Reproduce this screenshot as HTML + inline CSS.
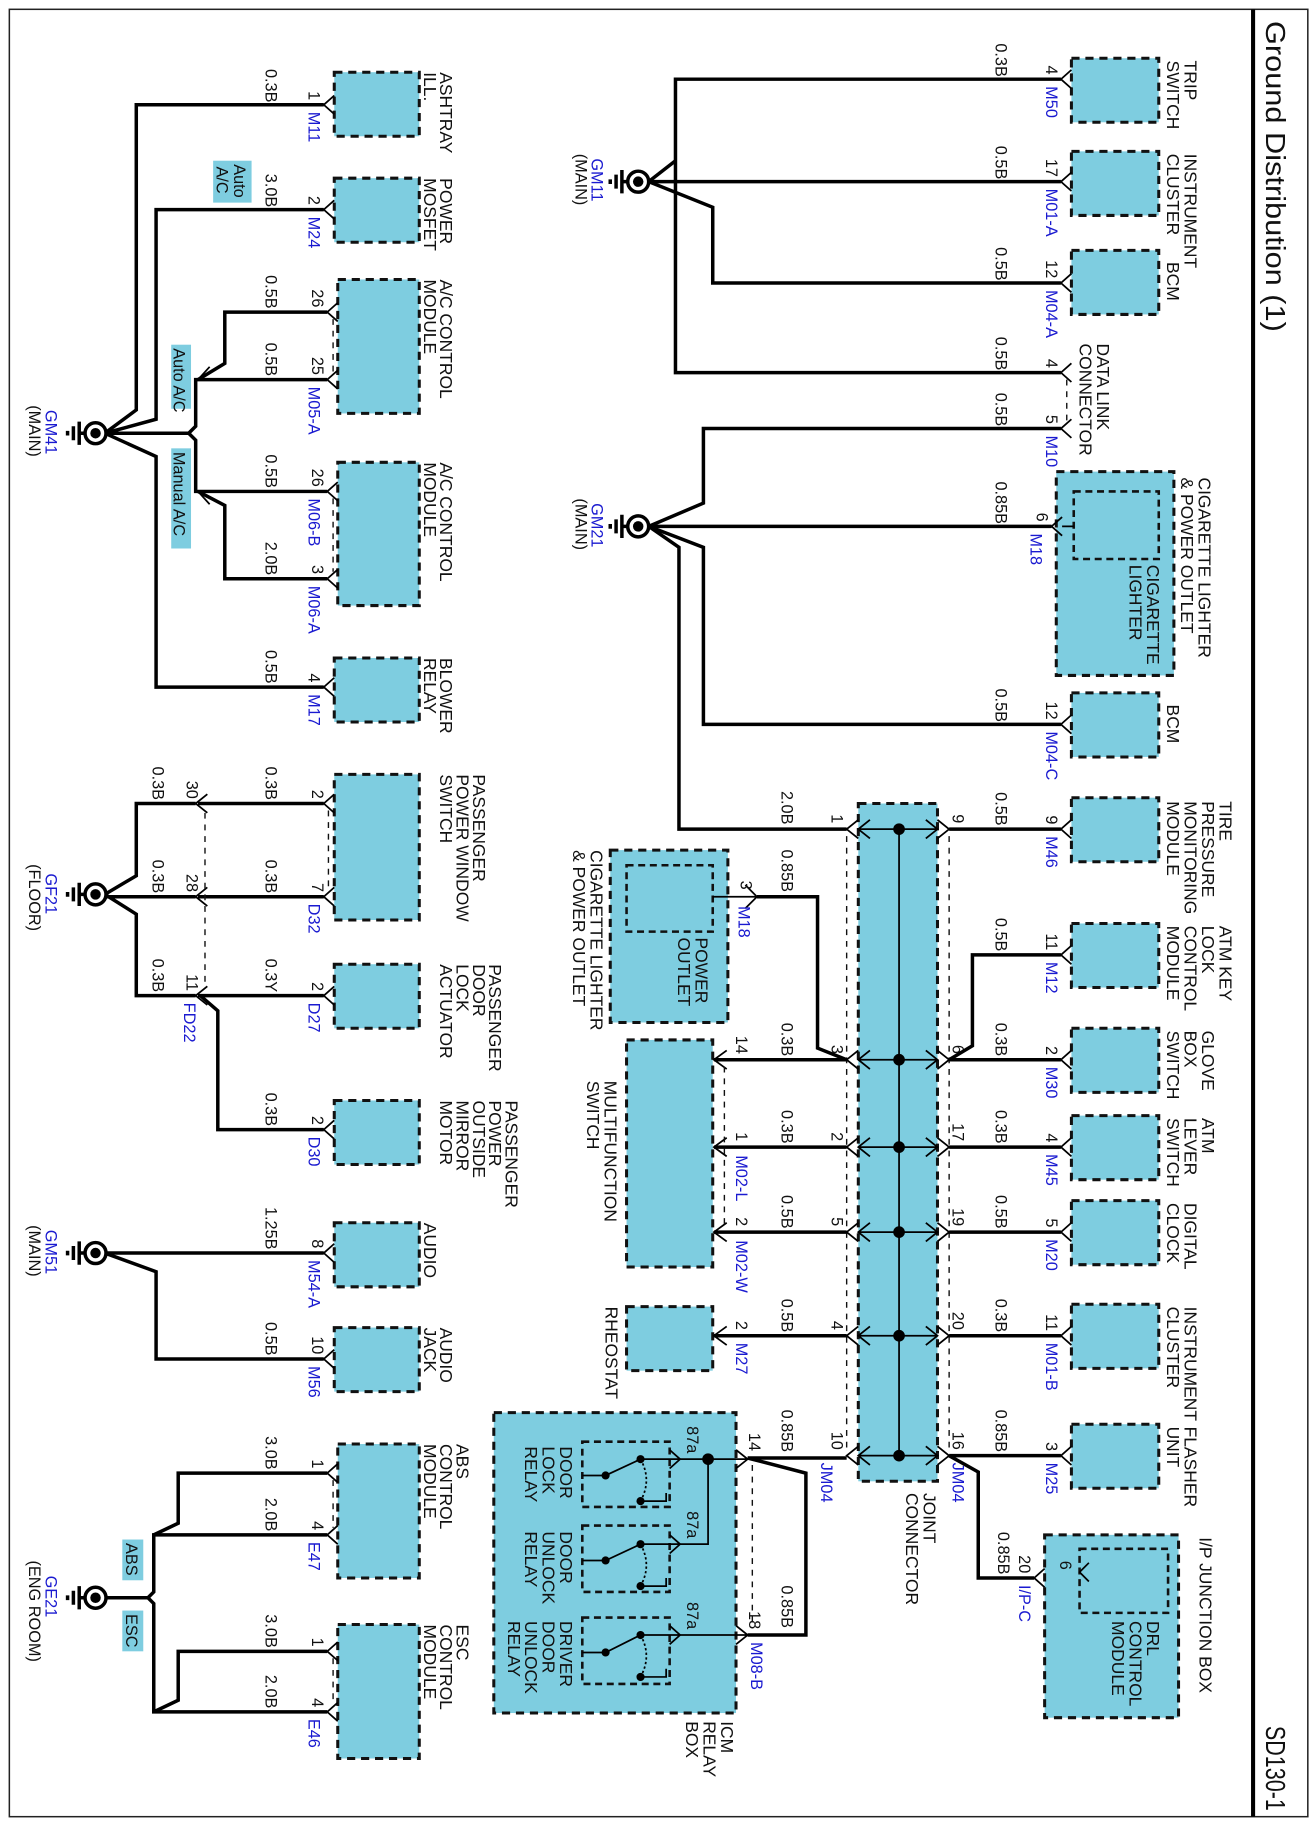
<!DOCTYPE html>
<html><head><meta charset="utf-8"><style>
html,body{margin:0;padding:0;background:#fff}
svg{display:block}
text{font-family:"Liberation Sans",Arial,sans-serif;font-size:14px;fill:#111}
.c{font-size:15px}
.b{fill:#1a1ad0}
.e{text-anchor:end}
.w{fill:none;stroke:#000;stroke-width:3}
.t{fill:none;stroke:#000;stroke-width:1.5}
.bx{fill:#7ecde0;stroke:#111;stroke-width:2.6;stroke-dasharray:7,5}
.ib{fill:none;stroke:#111;stroke-width:2.2;stroke-dasharray:6,4}
.d{fill:none;stroke:#111;stroke-width:1.2;stroke-dasharray:5,5}
.lb{fill:#7ecde0}
</style></head><body>
<svg width="1316" height="1826" viewBox="0 0 1130 1568" xmlns="http://www.w3.org/2000/svg">
<rect x="8" y="8" width="1115" height="1552" fill="#fff" stroke="#222" stroke-width="1.3"/>
<line x1="1076" y1="8" x2="1076" y2="1560" stroke="#000" stroke-width="3.5"/>
<text style="font-size:24px" textLength="267" lengthAdjust="spacingAndGlyphs" transform="translate(1087 18) rotate(90)">Ground Distribution (1)</text>
<text style="font-size:24px" textLength="73" lengthAdjust="spacingAndGlyphs" transform="translate(1087 1482) rotate(90)">SD130-1</text>

<!-- ================= TOP RIGHT ================= -->
<rect class="bx" x="920" y="50" width="75" height="55"/>
<rect class="bx" x="920" y="130" width="75" height="55"/>
<rect class="bx" x="920" y="215" width="75" height="55"/>
<rect class="bx" x="907" y="405" width="101" height="175"/>
<rect class="ib" x="922" y="422" width="73" height="58"/>
<rect class="bx" x="920" y="595" width="75" height="55"/>

<path class="w" d="M911,68 H580 V320 H911"/>
<path class="w" d="M911,156 H557"/>
<path class="w" d="M557,156 L580,138"/>
<path class="w" d="M557,156 L612,178 V243 H911"/>
<path class="w" d="M911,368 H604 V432 L557,452"/>
<path class="w" d="M903,452 H557"/>
<path class="w" d="M911,622 H604 V470 L557,452"/>
<path class="w" d="M557,452 L583,470 V712 H727"/>
<line class="d" x1="916" y1="326" x2="916" y2="362"/>

<g class="t">
<path d="M920,60 L911,68 L920,76"/><path d="M920,148 L911,156 L920,164"/><path d="M920,235 L911,243 L920,251"/>
<path d="M920,312 L911,320 L920,328"/><path d="M920,360 L911,368 L920,376"/>
<path d="M912,444 L903,452 L912,460"/><path d="M920,614 L911,622 L920,630"/>
<path d="M922,452 H912"/>
</g>

<text class="c" transform="translate(1017 52) rotate(90)">TRIP</text>
<text class="c" transform="translate(1002 52) rotate(90)">SWITCH</text>
<text class="c" transform="translate(1017 132) rotate(90)">INSTRUMENT</text>
<text class="c" transform="translate(1002 132) rotate(90)">CLUSTER</text>
<text class="c" transform="translate(1002 225) rotate(90)">BCM</text>
<text class="c" transform="translate(942 295) rotate(90)">DATA LINK</text>
<text class="c" transform="translate(927 295) rotate(90)">CONNECTOR</text>
<text class="c" transform="translate(1029 410) rotate(90)">CIGARETTE LIGHTER</text>
<text class="c" transform="translate(1014 410) rotate(90)">&amp; POWER OUTLET</text>
<text class="c" transform="translate(985 485) rotate(90)">CIGARETTE</text>
<text class="c" transform="translate(970 485) rotate(90)">LIGHTER</text>
<text class="c" transform="translate(1002 605) rotate(90)">BCM</text>

<text class="e" transform="translate(898 64) rotate(90)">4</text>
<text class="b" transform="translate(898 74) rotate(90)">M50</text>
<text class="e" transform="translate(855 66) rotate(90)">0.3B</text>
<text class="e" transform="translate(898 152) rotate(90)">17</text>
<text class="b" transform="translate(898 162) rotate(90)">M01-A</text>
<text class="e" transform="translate(855 154) rotate(90)">0.5B</text>
<text class="e" transform="translate(898 239) rotate(90)">12</text>
<text class="b" transform="translate(898 249) rotate(90)">M04-A</text>
<text class="e" transform="translate(855 241) rotate(90)">0.5B</text>
<text class="e" transform="translate(898 316) rotate(90)">4</text>
<text class="e" transform="translate(855 318) rotate(90)">0.5B</text>
<text class="e" transform="translate(898 364) rotate(90)">5</text>
<text class="b" transform="translate(898 374) rotate(90)">M10</text>
<text class="e" transform="translate(855 366) rotate(90)">0.5B</text>
<text class="e" transform="translate(890 448) rotate(90)">6</text>
<text class="b" transform="translate(885 458) rotate(90)">M18</text>
<text class="e" transform="translate(855 450) rotate(90)">0.85B</text>
<text class="e" transform="translate(898 618) rotate(90)">12</text>
<text class="b" transform="translate(898 628) rotate(90)">M04-C</text>
<text class="e" transform="translate(855 620) rotate(90)">0.5B</text>

<!-- GM11 / GM21 grounds -->
<g>
<circle cx="548" cy="156" r="9" fill="#fff" stroke="#000" stroke-width="3"/><circle cx="548" cy="156" r="4.5" fill="#000"/>
<path class="w" d="M539,156 H534 M534,146 V166 M529,150 V162 M524,154 V158"/>
<text class="b" transform="translate(508 136) rotate(90)">GM11</text>
<text transform="translate(494 132) rotate(90)">(MAIN)</text>
<circle cx="548" cy="452" r="9" fill="#fff" stroke="#000" stroke-width="3"/><circle cx="548" cy="452" r="4.5" fill="#000"/>
<path class="w" d="M539,452 H534 M534,442 V462 M529,446 V458 M524,450 V454"/>
<text class="b" transform="translate(508 432) rotate(90)">GM21</text>
<text transform="translate(494 428) rotate(90)">(MAIN)</text>
</g>

<!-- ================= JOINT CONNECTOR ================= -->
<rect class="bx" x="737" y="690" width="68" height="582"/>
<line x1="772" y1="712" x2="772" y2="1250" stroke="#000" stroke-width="1.5"/>
<line class="d" x1="727" y1="718" x2="727" y2="1244"/>
<line class="d" x1="815" y1="718" x2="815" y2="1244"/>
<g class="t">
<path d="M737,712 H805 M747,704 L737,712 L747,720 M795,704 L805,712 L795,720 M737,704 L727,712 L737,720 M805,704 L815,712 L805,720"/>
<path d="M737,910 H805 M747,902 L737,910 L747,918 M795,902 L805,910 L795,918 M737,902 L727,910 L737,918 M805,902 L815,910 L805,918"/>
<path d="M737,985 H805 M747,977 L737,985 L747,993 M795,977 L805,985 L795,993 M737,977 L727,985 L737,993 M805,977 L815,985 L805,993"/>
<path d="M737,1058 H805 M747,1050 L737,1058 L747,1066 M795,1050 L805,1058 L795,1066 M737,1050 L727,1058 L737,1066 M805,1050 L815,1058 L805,1066"/>
<path d="M737,1147 H805 M747,1139 L737,1147 L747,1155 M795,1139 L805,1147 L795,1155 M737,1139 L727,1147 L737,1155 M805,1139 L815,1147 L805,1155"/>
<path d="M737,1250 H805 M747,1242 L737,1250 L747,1258 M795,1242 L805,1250 L795,1258 M737,1242 L727,1250 L737,1258 M805,1242 L815,1250 L805,1258"/>
</g>
<g fill="#000"><circle cx="772" cy="712" r="5"/><circle cx="772" cy="910" r="5"/><circle cx="772" cy="985" r="5"/><circle cx="772" cy="1058" r="5"/><circle cx="772" cy="1147" r="5"/><circle cx="772" cy="1250" r="5"/></g>
<text class="e" transform="translate(714 707) rotate(90)">1</text>
<text class="e" transform="translate(714 905) rotate(90)">3</text>
<text class="e" transform="translate(714 980) rotate(90)">2</text>
<text class="e" transform="translate(714 1053) rotate(90)">5</text>
<text class="e" transform="translate(714 1142) rotate(90)">4</text>
<text class="e" transform="translate(714 1245) rotate(90)">10</text>
<text class="e" transform="translate(818 707) rotate(90)">9</text>
<text class="e" transform="translate(818 905) rotate(90)">6</text>
<text class="e" transform="translate(818 980) rotate(90)">17</text>
<text class="e" transform="translate(818 1053) rotate(90)">19</text>
<text class="e" transform="translate(818 1142) rotate(90)">20</text>
<text class="e" transform="translate(818 1245) rotate(90)">16</text>
<text class="b" transform="translate(705 1256) rotate(90)">JM04</text>
<text class="b" transform="translate(818 1256) rotate(90)">JM04</text>
<text class="c" transform="translate(793 1282) rotate(90)">JOINT</text>
<text class="c" transform="translate(778 1282) rotate(90)">CONNECTOR</text>
<text class="e" transform="translate(671 708) rotate(90)">2.0B</text>

<!-- right side of joint -->
<rect class="bx" x="920" y="685" width="75" height="55"/>
<rect class="bx" x="920" y="793" width="75" height="55"/>
<rect class="bx" x="920" y="883" width="75" height="55"/>
<rect class="bx" x="920" y="958" width="75" height="55"/>
<rect class="bx" x="920" y="1031" width="75" height="55"/>
<rect class="bx" x="920" y="1120" width="75" height="55"/>
<rect class="bx" x="920" y="1223" width="75" height="55"/>
<rect class="bx" x="897" y="1318" width="115" height="157"/>
<rect class="ib" x="927" y="1330" width="76" height="55"/>
<path class="w" d="M911,712 H815"/>
<path class="w" d="M911,820 H835 V898 L815,910"/>
<path class="w" d="M911,910 H815"/>
<path class="w" d="M911,985 H815"/>
<path class="w" d="M911,1058 H815"/>
<path class="w" d="M911,1147 H815"/>
<path class="w" d="M911,1250 H815"/>
<path class="w" d="M815,1250 L840,1264 V1355 H888"/>
<g class="t">
<path d="M920,704 L911,712 L920,720"/><path d="M920,812 L911,820 L920,828"/><path d="M920,902 L911,910 L920,918"/>
<path d="M920,977 L911,985 L920,993"/><path d="M920,1050 L911,1058 L920,1066"/><path d="M920,1139 L911,1147 L920,1155"/>
<path d="M920,1242 L911,1250 L920,1258"/><path d="M897,1347 L888,1355 L897,1363"/>
<path d="M935,1342 L927,1350 L935,1358"/>
</g>
<text class="e" transform="translate(898 708) rotate(90)">9</text>
<text class="b" transform="translate(898 718) rotate(90)">M46</text>
<text class="e" transform="translate(855 709) rotate(90)">0.5B</text>
<text class="e" transform="translate(898 816) rotate(90)">11</text>
<text class="b" transform="translate(898 826) rotate(90)">M12</text>
<text class="e" transform="translate(855 817) rotate(90)">0.5B</text>
<text class="e" transform="translate(898 906) rotate(90)">2</text>
<text class="b" transform="translate(898 916) rotate(90)">M30</text>
<text class="e" transform="translate(855 907) rotate(90)">0.3B</text>
<text class="e" transform="translate(898 981) rotate(90)">4</text>
<text class="b" transform="translate(898 991) rotate(90)">M45</text>
<text class="e" transform="translate(855 982) rotate(90)">0.3B</text>
<text class="e" transform="translate(898 1054) rotate(90)">5</text>
<text class="b" transform="translate(898 1064) rotate(90)">M20</text>
<text class="e" transform="translate(855 1055) rotate(90)">0.5B</text>
<text class="e" transform="translate(898 1143) rotate(90)">11</text>
<text class="b" transform="translate(898 1153) rotate(90)">M01-B</text>
<text class="e" transform="translate(855 1144) rotate(90)">0.3B</text>
<text class="e" transform="translate(898 1246) rotate(90)">3</text>
<text class="b" transform="translate(898 1256) rotate(90)">M25</text>
<text class="e" transform="translate(855 1247) rotate(90)">0.85B</text>
<text class="e" transform="translate(875 1351) rotate(90)">20</text>
<text class="b" transform="translate(875 1361) rotate(90)">I/P-C</text>
<text class="e" transform="translate(857 1352) rotate(90)">0.85B</text>
<text class="e" transform="translate(910 1348) rotate(90)">6</text>

<text class="c" transform="translate(1047 688) rotate(90)">TIRE</text>
<text class="c" transform="translate(1032 688) rotate(90)">PRESSURE</text>
<text class="c" transform="translate(1017 688) rotate(90)">MONITORING</text>
<text class="c" transform="translate(1002 688) rotate(90)">MODULE</text>
<text class="c" transform="translate(1047 795) rotate(90)">ATM KEY</text>
<text class="c" transform="translate(1032 795) rotate(90)">LOCK</text>
<text class="c" transform="translate(1017 795) rotate(90)">CONTROL</text>
<text class="c" transform="translate(1002 795) rotate(90)">MODULE</text>
<text class="c" transform="translate(1032 885) rotate(90)">GLOVE</text>
<text class="c" transform="translate(1017 885) rotate(90)">BOX</text>
<text class="c" transform="translate(1002 885) rotate(90)">SWITCH</text>
<text class="c" transform="translate(1032 960) rotate(90)">ATM</text>
<text class="c" transform="translate(1017 960) rotate(90)">LEVER</text>
<text class="c" transform="translate(1002 960) rotate(90)">SWITCH</text>
<text class="c" transform="translate(1017 1033) rotate(90)">DIGITAL</text>
<text class="c" transform="translate(1002 1033) rotate(90)">CLOCK</text>
<text class="c" transform="translate(1017 1122) rotate(90)">INSTRUMENT</text>
<text class="c" transform="translate(1002 1122) rotate(90)">CLUSTER</text>
<text class="c" transform="translate(1017 1225) rotate(90)">FLASHER</text>
<text class="c" transform="translate(1002 1225) rotate(90)">UNIT</text>
<text class="c" transform="translate(1030 1320) rotate(90)">I/P JUNCTION BOX</text>
<text class="c" transform="translate(985 1392) rotate(90)">DRL</text>
<text class="c" transform="translate(970 1392) rotate(90)">CONTROL</text>
<text class="c" transform="translate(955 1392) rotate(90)">MODULE</text>

<!-- left of joint -->
<rect class="bx" x="524" y="730" width="101" height="148"/>
<rect class="ib" x="538" y="743" width="74" height="57"/>
<rect class="bx" x="538" y="893" width="74" height="195"/>
<rect class="bx" x="538" y="1122" width="74" height="55"/>
<path class="t" d="M612,770 H650 M640,760 L650,770 L640,780"/>
<path class="w" d="M650,770 H702 V900 L727,910"/>
<path class="w" d="M613,910 H727 M613,985 H727 M613,1058 H727 M613,1147 H727"/>
<g class="t"><path d="M624,902 L613,910 L624,918"/><path d="M624,977 L613,985 L624,993"/><path d="M624,1050 L613,1058 L624,1066"/><path d="M624,1139 L613,1147 L624,1155"/></g>
<line class="d" x1="622" y1="916" x2="622" y2="1052"/>
<text class="e" transform="translate(636 764) rotate(90)">3</text>
<text class="b" transform="translate(634 778) rotate(90)">M18</text>
<text class="e" transform="translate(671 766) rotate(90)">0.85B</text>
<text class="e" transform="translate(632 905) rotate(90)">14</text>
<text class="e" transform="translate(671 907) rotate(90)">0.3B</text>
<text class="e" transform="translate(632 980) rotate(90)">1</text>
<text class="b" transform="translate(632 992) rotate(90)">M02-L</text>
<text class="e" transform="translate(671 982) rotate(90)">0.3B</text>
<text class="e" transform="translate(632 1053) rotate(90)">2</text>
<text class="b" transform="translate(632 1065) rotate(90)">M02-W</text>
<text class="e" transform="translate(671 1055) rotate(90)">0.5B</text>
<text class="e" transform="translate(632 1142) rotate(90)">2</text>
<text class="b" transform="translate(632 1153) rotate(90)">M27</text>
<text class="e" transform="translate(671 1144) rotate(90)">0.5B</text>
<text class="c" transform="translate(507 730) rotate(90)">CIGARETTE LIGHTER</text>
<text class="c" transform="translate(492 730) rotate(90)">&amp; POWER OUTLET</text>
<text class="c" transform="translate(597 805) rotate(90)">POWER</text>
<text class="c" transform="translate(582 805) rotate(90)">OUTLET</text>
<text class="c" transform="translate(519 928) rotate(90)">MULTIFUNCTION</text>
<text class="c" transform="translate(504 928) rotate(90)">SWITCH</text>
<text class="c" transform="translate(520 1122) rotate(90)">RHEOSTAT</text>

<!-- ICM relay box -->
<rect class="bx" x="424" y="1213" width="208" height="258"/>
<rect class="ib" x="500" y="1238" width="75" height="56"/>
<rect class="ib" x="500" y="1310" width="75" height="57"/>
<rect class="ib" x="500" y="1389" width="75" height="57"/>
<g class="t">
<path d="M500,1267 H520 L550,1253 H584 M575,1245 L584,1253 L575,1261 M550,1289 H572 V1282"/>
<path d="M500,1340 H520 L550,1326 H584 M575,1318 L584,1326 L575,1334 M550,1362 H572 V1355"/>
<path d="M500,1419 H520 L550,1404 H584 M575,1396 L584,1404 L575,1412 M550,1440 H572 V1433"/>
<path d="M584,1253 H642 M608,1253 V1326 H584 M584,1404 H642 M632,1245 L642,1253 L632,1261 M632,1396 L642,1404 L632,1412"/>
<path d="M550,1253 Q560,1271 550,1289 M550,1326 Q560,1344 550,1362 M550,1404 Q560,1422 550,1440" stroke-dasharray="2,2"/>
</g>
<g fill="#000"><circle cx="520" cy="1267" r="3.5"/><circle cx="550" cy="1253" r="3.5"/><circle cx="550" cy="1289" r="3.5"/>
<circle cx="520" cy="1340" r="3.5"/><circle cx="550" cy="1326" r="3.5"/><circle cx="550" cy="1362" r="3.5"/>
<circle cx="520" cy="1419" r="3.5"/><circle cx="550" cy="1404" r="3.5"/><circle cx="550" cy="1440" r="3.5"/>
<circle cx="608" cy="1253" r="5"/></g>
<path class="w" d="M642,1252 H727"/>
<path class="w" d="M642,1252 L692,1265 V1404 H642"/>
<line class="d" x1="646" y1="1258" x2="646" y2="1398"/>
<text class="e" transform="translate(590 1248) rotate(90)">87a</text>
<text class="e" transform="translate(590 1321) rotate(90)">87a</text>
<text class="e" transform="translate(590 1399) rotate(90)">87a</text>
<text class="e" transform="translate(643 1246) rotate(90)">14</text>
<text class="e" transform="translate(671 1247) rotate(90)">0.85B</text>
<text class="e" transform="translate(643 1399) rotate(90)">18</text>
<text class="b" transform="translate(645 1410) rotate(90)">M08-B</text>
<text class="e" transform="translate(671 1398) rotate(90)">0.85B</text>
<text class="c" transform="translate(481 1242) rotate(90)">DOOR</text>
<text class="c" transform="translate(466 1242) rotate(90)">LOCK</text>
<text class="c" transform="translate(451 1242) rotate(90)">RELAY</text>
<text class="c" transform="translate(481 1315) rotate(90)">DOOR</text>
<text class="c" transform="translate(466 1315) rotate(90)">UNLOCK</text>
<text class="c" transform="translate(451 1315) rotate(90)">RELAY</text>
<text class="c" transform="translate(481 1392) rotate(90)">DRIVER</text>
<text class="c" transform="translate(466 1392) rotate(90)">DOOR</text>
<text class="c" transform="translate(451 1392) rotate(90)">UNLOCK</text>
<text class="c" transform="translate(436 1392) rotate(90)">RELAY</text>
<text class="c" transform="translate(619 1478) rotate(90)">ICM</text>
<text class="c" transform="translate(604 1478) rotate(90)">RELAY</text>
<text class="c" transform="translate(589 1478) rotate(90)">BOX</text>

<!-- ================= LEFT SIDE ================= -->
<rect class="bx" x="287" y="62" width="73" height="55"/>
<rect class="bx" x="287" y="153" width="73" height="55"/>
<rect class="bx" x="290" y="240" width="70" height="115"/>
<rect class="bx" x="290" y="397" width="70" height="123"/>
<rect class="bx" x="287" y="565" width="73" height="55"/>
<path class="w" d="M278,90 H117 V352 L90,372"/>
<path class="w" d="M278,180 H134 V360 L90,372"/>
<path class="w" d="M281,268 H193 V312 L170,326"/>
<path class="w" d="M281,326 H168 V366 L162,372 H90"/>
<path class="w" d="M162,372 L168,378 V422 H281"/>
<path class="w" d="M281,497 H193 V434 L170,422"/>
<path class="w" d="M90,372 L134,392 V590 H278"/>
<line class="d" x1="286" y1="274" x2="286" y2="320"/>
<line class="d" x1="286" y1="428" x2="286" y2="491"/>
<g class="t">
<path d="M287,82 L278,90 L287,98"/><path d="M287,172 L278,180 L287,188"/>
<path d="M290,260 L281,268 L290,276"/><path d="M290,318 L281,326 L290,334"/>
<path d="M290,414 L281,422 L290,430"/><path d="M290,489 L281,497 L290,505"/>
<path d="M287,582 L278,590 L287,598"/>
<path d="M170,326 L180,315 M170,422 L180,433"/>
</g>
<circle cx="82" cy="372" r="9" fill="#fff" stroke="#000" stroke-width="3"/><circle cx="82" cy="372" r="4.5" fill="#000"/>
<path class="w" d="M73,372 H68 M68,362 V382 M63,366 V378 M58,370 V374"/>
<text class="b" transform="translate(39 352) rotate(90)">GM41</text>
<text transform="translate(25 348) rotate(90)">(MAIN)</text>

<rect class="lb" x="147" y="296" width="17" height="55"/>
<text transform="translate(149 299) rotate(90)">Auto A/C</text>
<rect class="lb" x="147" y="385" width="17" height="86"/>
<text transform="translate(149 388) rotate(90)">Manual A/C</text>
<rect class="lb" x="183" y="138" width="33" height="36"/>
<text transform="translate(201 141) rotate(90)">Auto</text>
<text transform="translate(186 143) rotate(90)">A/C</text>

<text class="e" transform="translate(265 86) rotate(90)">1</text>
<text class="b" transform="translate(265 96) rotate(90)">M11</text>
<text class="e" transform="translate(228 88) rotate(90)">0.3B</text>
<text class="e" transform="translate(265 176) rotate(90)">2</text>
<text class="b" transform="translate(265 186) rotate(90)">M24</text>
<text class="e" transform="translate(228 178) rotate(90)">3.0B</text>
<text class="e" transform="translate(268 264) rotate(90)">26</text>
<text class="e" transform="translate(228 265) rotate(90)">0.5B</text>
<text class="e" transform="translate(268 322) rotate(90)">25</text>
<text class="b" transform="translate(265 332) rotate(90)">M05-A</text>
<text class="e" transform="translate(228 323) rotate(90)">0.5B</text>
<text class="e" transform="translate(268 418) rotate(90)">26</text>
<text class="b" transform="translate(265 428) rotate(90)">M06-B</text>
<text class="e" transform="translate(228 419) rotate(90)">0.5B</text>
<text class="e" transform="translate(268 493) rotate(90)">3</text>
<text class="b" transform="translate(265 503) rotate(90)">M06-A</text>
<text class="e" transform="translate(228 494) rotate(90)">2.0B</text>
<text class="e" transform="translate(265 586) rotate(90)">4</text>
<text class="b" transform="translate(265 596) rotate(90)">M17</text>
<text class="e" transform="translate(228 587) rotate(90)">0.5B</text>

<text class="c" transform="translate(378 62) rotate(90)">ASHTRAY</text>
<text class="c" transform="translate(364 62) rotate(90)">ILL.</text>
<text class="c" transform="translate(378 153) rotate(90)">POWER</text>
<text class="c" transform="translate(364 153) rotate(90)">MOSFET</text>
<text class="c" transform="translate(378 240) rotate(90)">A/C CONTROL</text>
<text class="c" transform="translate(364 240) rotate(90)">MODULE</text>
<text class="c" transform="translate(378 397) rotate(90)">A/C CONTROL</text>
<text class="c" transform="translate(364 397) rotate(90)">MODULE</text>
<text class="c" transform="translate(378 565) rotate(90)">BLOWER</text>
<text class="c" transform="translate(364 565) rotate(90)">RELAY</text>

<!-- GF21 -->
<rect class="bx" x="287" y="665" width="73" height="125"/>
<rect class="bx" x="287" y="828" width="73" height="55"/>
<rect class="bx" x="287" y="945" width="73" height="55"/>
<path class="w" d="M278,690 H170 M168,690 H117 V752 L90,768"/>
<path class="w" d="M278,770 H170 M168,770 H90"/>
<path class="w" d="M278,855 H170 M168,855 H117 V785 L90,768"/>
<path class="w" d="M278,970 H187 V868 L172,855"/>
<g class="t">
<path d="M287,682 L278,690 L287,698"/><path d="M287,762 L278,770 L287,778"/><path d="M287,847 L278,855 L287,863"/><path d="M287,962 L278,970 L287,978"/>
<path d="M178,682 L168,690 L178,698"/><path d="M178,762 L168,770 L178,778"/><path d="M178,847 L168,855 L178,863"/>
</g>
<line class="d" x1="176" y1="698" x2="176" y2="847"/>
<line class="d" x1="282" y1="696" x2="282" y2="764"/>
<circle cx="82" cy="768" r="9" fill="#fff" stroke="#000" stroke-width="3"/><circle cx="82" cy="768" r="4.5" fill="#000"/>
<path class="w" d="M73,768 H68 M68,758 V778 M63,762 V774 M58,766 V770"/>
<text class="b" transform="translate(39 750) rotate(90)">GF21</text>
<text transform="translate(25 742) rotate(90)">(FLOOR)</text>
<text class="e" transform="translate(268 686) rotate(90)">2</text>
<text class="e" transform="translate(228 687) rotate(90)">0.3B</text>
<text class="e" transform="translate(268 766) rotate(90)">7</text>
<text class="b" transform="translate(265 776) rotate(90)">D32</text>
<text class="e" transform="translate(228 767) rotate(90)">0.3B</text>
<text class="e" transform="translate(268 851) rotate(90)">2</text>
<text class="b" transform="translate(265 861) rotate(90)">D27</text>
<text class="e" transform="translate(228 852) rotate(90)">0.3Y</text>
<text class="e" transform="translate(268 966) rotate(90)">2</text>
<text class="b" transform="translate(265 976) rotate(90)">D30</text>
<text class="e" transform="translate(228 967) rotate(90)">0.3B</text>
<text class="e" transform="translate(160 686) rotate(90)">30</text>
<text class="e" transform="translate(160 766) rotate(90)">28</text>
<text class="e" transform="translate(160 851) rotate(90)">11</text>
<text class="b" transform="translate(158 861) rotate(90)">FD22</text>
<text class="e" transform="translate(131 687) rotate(90)">0.3B</text>
<text class="e" transform="translate(131 767) rotate(90)">0.3B</text>
<text class="e" transform="translate(131 852) rotate(90)">0.3B</text>
<text class="c" transform="translate(406 665) rotate(90)">PASSENGER</text>
<text class="c" transform="translate(392 665) rotate(90)">POWER WINDOW</text>
<text class="c" transform="translate(378 665) rotate(90)">SWITCH</text>
<text class="c" transform="translate(420 828) rotate(90)">PASSENGER</text>
<text class="c" transform="translate(406 828) rotate(90)">DOOR</text>
<text class="c" transform="translate(392 828) rotate(90)">LOCK</text>
<text class="c" transform="translate(378 828) rotate(90)">ACTUATOR</text>
<text class="c" transform="translate(434 945) rotate(90)">PASSENGER</text>
<text class="c" transform="translate(420 945) rotate(90)">POWER</text>
<text class="c" transform="translate(406 945) rotate(90)">OUTSIDE</text>
<text class="c" transform="translate(392 945) rotate(90)">MIRROR</text>
<text class="c" transform="translate(378 945) rotate(90)">MOTOR</text>

<!-- GM51 -->
<rect class="bx" x="287" y="1050" width="73" height="55"/>
<rect class="bx" x="287" y="1140" width="73" height="55"/>
<path class="w" d="M278,1076 H90"/>
<path class="w" d="M278,1167 H134 V1092 L90,1076"/>
<g class="t"><path d="M287,1068 L278,1076 L287,1084"/><path d="M287,1159 L278,1167 L287,1175"/></g>
<circle cx="82" cy="1076" r="9" fill="#fff" stroke="#000" stroke-width="3"/><circle cx="82" cy="1076" r="4.5" fill="#000"/>
<path class="w" d="M73,1076 H68 M68,1066 V1086 M63,1070 V1082 M58,1074 V1078"/>
<text class="b" transform="translate(39 1056) rotate(90)">GM51</text>
<text transform="translate(25 1052) rotate(90)">(MAIN)</text>
<text class="e" transform="translate(268 1072) rotate(90)">8</text>
<text class="b" transform="translate(265 1082) rotate(90)">M54-A</text>
<text class="e" transform="translate(228 1073) rotate(90)">1.25B</text>
<text class="e" transform="translate(268 1163) rotate(90)">10</text>
<text class="b" transform="translate(265 1173) rotate(90)">M56</text>
<text class="e" transform="translate(228 1164) rotate(90)">0.5B</text>
<text class="c" transform="translate(364 1050) rotate(90)">AUDIO</text>
<text class="c" transform="translate(378 1140) rotate(90)">AUDIO</text>
<text class="c" transform="translate(364 1140) rotate(90)">JACK</text>

<!-- GE21 -->
<rect class="bx" x="290" y="1240" width="70" height="115"/>
<rect class="bx" x="290" y="1395" width="70" height="115"/>
<path class="w" d="M281,1265 H153 V1308 L132,1318"/>
<path class="w" d="M281,1318 H132 V1367 L127,1372 H90"/>
<path class="w" d="M127,1372 L132,1377 V1470 H281"/>
<path class="w" d="M281,1418 H153 V1460 L132,1470"/>
<g class="t"><path d="M290,1257 L281,1265 L290,1273"/><path d="M290,1310 L281,1318 L290,1326"/><path d="M290,1410 L281,1418 L290,1426"/><path d="M290,1462 L281,1470 L290,1478"/></g>
<line class="d" x1="286" y1="1271" x2="286" y2="1312"/>
<line class="d" x1="286" y1="1424" x2="286" y2="1464"/>
<rect class="lb" x="105" y="1322" width="18" height="35"/>
<text transform="translate(108 1325) rotate(90)">ABS</text>
<rect class="lb" x="105" y="1383" width="18" height="35"/>
<text transform="translate(108 1386) rotate(90)">ESC</text>
<circle cx="82" cy="1372" r="9" fill="#fff" stroke="#000" stroke-width="3"/><circle cx="82" cy="1372" r="4.5" fill="#000"/>
<path class="w" d="M73,1372 H68 M68,1362 V1382 M63,1366 V1378 M58,1370 V1374"/>
<text class="b" transform="translate(39 1353) rotate(90)">GE21</text>
<text transform="translate(25 1340) rotate(90)">(ENG ROOM)</text>
<text class="e" transform="translate(268 1261) rotate(90)">1</text>
<text class="e" transform="translate(228 1262) rotate(90)">3.0B</text>
<text class="e" transform="translate(268 1314) rotate(90)">4</text>
<text class="b" transform="translate(265 1324) rotate(90)">E47</text>
<text class="e" transform="translate(228 1315) rotate(90)">2.0B</text>
<text class="e" transform="translate(268 1414) rotate(90)">1</text>
<text class="e" transform="translate(228 1415) rotate(90)">3.0B</text>
<text class="e" transform="translate(268 1466) rotate(90)">4</text>
<text class="b" transform="translate(265 1476) rotate(90)">E46</text>
<text class="e" transform="translate(228 1467) rotate(90)">2.0B</text>
<text class="c" transform="translate(392 1240) rotate(90)">ABS</text>
<text class="c" transform="translate(378 1240) rotate(90)">CONTROL</text>
<text class="c" transform="translate(364 1240) rotate(90)">MODULE</text>
<text class="c" transform="translate(392 1395) rotate(90)">ESC</text>
<text class="c" transform="translate(378 1395) rotate(90)">CONTROL</text>
<text class="c" transform="translate(364 1395) rotate(90)">MODULE</text>
</svg>
</body></html>
